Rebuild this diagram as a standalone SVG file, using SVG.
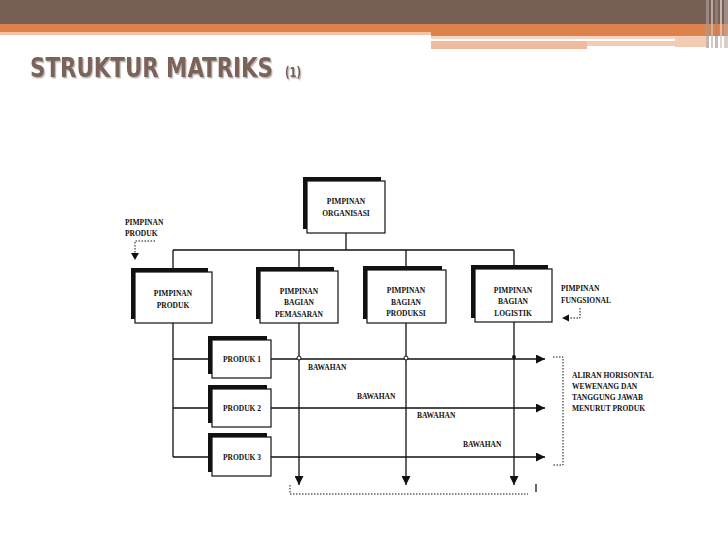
<svg xmlns="http://www.w3.org/2000/svg" width="728" height="546" viewBox="0 0 728 546">
<defs>
<style>
.t{font-family:"Liberation Serif","Times New Roman",serif;font-weight:bold;font-size:7.5px;fill:#111;}
.c{text-anchor:middle;}
.box{fill:#fff;stroke:#111;stroke-width:1.2;}
.sh{fill:#111;}
.ln{stroke:#111;stroke-width:1.3;fill:none;}
.dot{stroke:#111;stroke-width:1;fill:none;stroke-dasharray:1.5 1.5;}
.title{font-family:"DejaVu Sans Condensed","DejaVu Sans",sans-serif;font-weight:bold;fill:#7B645A;filter:url(#ts);}
</style>
<filter id="ts" x="-5%" y="-20%" width="110%" height="150%">
<feDropShadow dx="1.2" dy="1.2" stdDeviation="0.6" flood-color="#9a9490" flood-opacity="0.7"/>
</filter>
<marker id="ah" viewBox="0 0 10 10" refX="10" refY="5" markerWidth="9" markerHeight="9" markerUnits="userSpaceOnUse" orient="auto">
<path d="M0,0 L10,5 L0,10 Z" fill="#111"/>
</marker>
</defs>
<rect width="728" height="546" fill="#fff"/>
<!-- header -->
<g id="header">
<rect x="0" y="0" width="728" height="24" fill="#785F55"/>
<rect x="0" y="24" width="431" height="8" fill="#DE814A"/>
<rect x="0" y="32" width="431" height="3" fill="#F2C3A5"/>
<rect x="431" y="24" width="297" height="12" fill="#DE814A"/>
<rect x="431" y="36" width="275" height="3" fill="#F6D6C2"/>
<rect x="431" y="41" width="156" height="8" fill="#EFBB9C"/>
<rect x="587" y="41" width="88" height="5" fill="#F3CBB2"/>
<rect x="675" y="37" width="31" height="10" fill="#F3CBB2"/>
<rect x="706" y="0" width="3" height="48" fill="#A89890" opacity="0.7"/>
<rect x="711" y="0" width="2" height="48" fill="#C9BDB6" opacity="0.8"/>
<rect x="715" y="0" width="3" height="48" fill="#9F8F87" opacity="0.6"/>
<rect x="720" y="0" width="2" height="48" fill="#D8CCC6" opacity="0.8"/>
<rect x="724" y="0" width="4" height="48" fill="#BBADA6" opacity="0.6"/>
</g>
<g id="title">
<text class="title" transform="translate(30,77) scale(1,1.22)" x="0" y="0" font-size="22"><tspan textLength="243" lengthAdjust="spacingAndGlyphs">STRUKTUR MATRIKS</tspan><tspan x="255" font-size="11">(1)</tspan></text>
</g>
<!-- connectors -->
<g id="connectors">
<path class="ln" d="M346,233 V250 M173,250 H514 M173,250 V272 M299,250 V271 M406,250 V270 M514,250 V269"/>
<path class="ln" d="M173,323 V457 M173,359 H212 M173,408 H212 M173,457 H212"/>
<path class="ln" d="M271,359 H545" marker-end="url(#ah)"/>
<path class="ln" d="M271,408 H545" marker-end="url(#ah)"/>
<path class="ln" d="M271,457 H545" marker-end="url(#ah)"/>
<path class="ln" d="M299,323 V485" marker-end="url(#ah)"/>
<path class="ln" d="M406,323 V485" marker-end="url(#ah)"/>
<path class="ln" d="M514,322 V485" marker-end="url(#ah)"/>
<circle cx="299" cy="358" r="2" fill="#fff" stroke="#111" stroke-width="1"/>
<circle cx="406" cy="358" r="2" fill="#fff" stroke="#111" stroke-width="1"/>
<circle cx="514" cy="357" r="2" fill="#111"/>
<path class="dot" d="M155,241 H135 V253"/>
<path d="M131,253 L139,253 L135,260 Z" fill="#111"/>
<path class="dot" d="M580,308 V318 H569"/>
<path d="M569,314.5 L569,321.5 L562,318 Z" fill="#111"/>
<path class="dot" d="M553,357 H563 V465 H553"/>
<path class="dot" d="M290,485 V494 H528"/>
<path class="ln" d="M536,484 V492" stroke-width="1"/>
</g>
<!-- nodes -->
<g id="pimpinan-organisasi">
<rect class="sh" x="303" y="177" width="78" height="52"/>
<rect class="box" x="307" y="181" width="78" height="52"/>
<text class="t c" x="346" y="204">PIMPINAN</text>
<text class="t c" x="346" y="216">ORGANISASI</text>
</g>
<g id="pimpinan-produk">
<rect class="sh" x="131" y="268" width="77" height="51"/>
<rect class="box" x="135" y="272" width="77" height="51"/>
<text class="t c" x="173" y="296">PIMPINAN</text>
<text class="t c" x="173" y="308">PRODUK</text>
</g>
<g id="bagian-pemasaran">
<rect class="sh" x="256" y="267" width="78" height="52"/>
<rect class="box" x="260" y="271" width="78" height="52"/>
<text class="t c" x="299" y="294">PIMPINAN</text>
<text class="t c" x="299" y="305">BAGIAN</text>
<text class="t c" x="299" y="317">PEMASARAN</text>
</g>
<g id="bagian-produksi">
<rect class="sh" x="363" y="266" width="79" height="53"/>
<rect class="box" x="367" y="270" width="79" height="53"/>
<text class="t c" x="406" y="293">PIMPINAN</text>
<text class="t c" x="406" y="305">BAGIAN</text>
<text class="t c" x="406" y="316">PRODUKSI</text>
</g>
<g id="bagian-logistik">
<rect class="sh" x="471" y="265" width="77" height="53"/>
<rect class="box" x="475" y="269" width="77" height="53"/>
<text class="t c" x="513" y="293">PIMPINAN</text>
<text class="t c" x="513" y="304">BAGIAN</text>
<text class="t c" x="513" y="316">LOGISTIK</text>
</g>
<g id="produk1">
<rect class="sh" x="208" y="336" width="59" height="38"/>
<rect class="box" x="212" y="340" width="59" height="38"/>
<text class="t c" x="242" y="362">PRODUK 1</text>
</g>
<g id="produk2">
<rect class="sh" x="208" y="385" width="59" height="38"/>
<rect class="box" x="212" y="389" width="59" height="38"/>
<text class="t c" x="242" y="411">PRODUK 2</text>
</g>
<g id="produk3">
<rect class="sh" x="208" y="433" width="59" height="39"/>
<rect class="box" x="212" y="437" width="59" height="39"/>
<text class="t c" x="242" y="460">PRODUK 3</text>
</g>
<!-- labels -->
<g id="labels">
<text class="t" x="125" y="225">PIMPINAN</text>
<text class="t" x="125" y="236">PRODUK</text>
<text class="t" x="561" y="291">PIMPINAN</text>
<text class="t" x="561" y="303">FUNGSIONAL</text>
<text class="t" x="308" y="370">BAWAHAN</text>
<text class="t" x="357" y="399">BAWAHAN</text>
<text class="t" x="417" y="418">BAWAHAN</text>
<text class="t" x="463" y="447">BAWAHAN</text>
<text class="t" x="572" y="378">ALIRAN HORISONTAL</text>
<text class="t" x="572" y="389">WEWENANG DAN</text>
<text class="t" x="572" y="400">TANGGUNG JAWAB</text>
<text class="t" x="572" y="411">MENURUT PRODUK</text>
</g>
</svg>
